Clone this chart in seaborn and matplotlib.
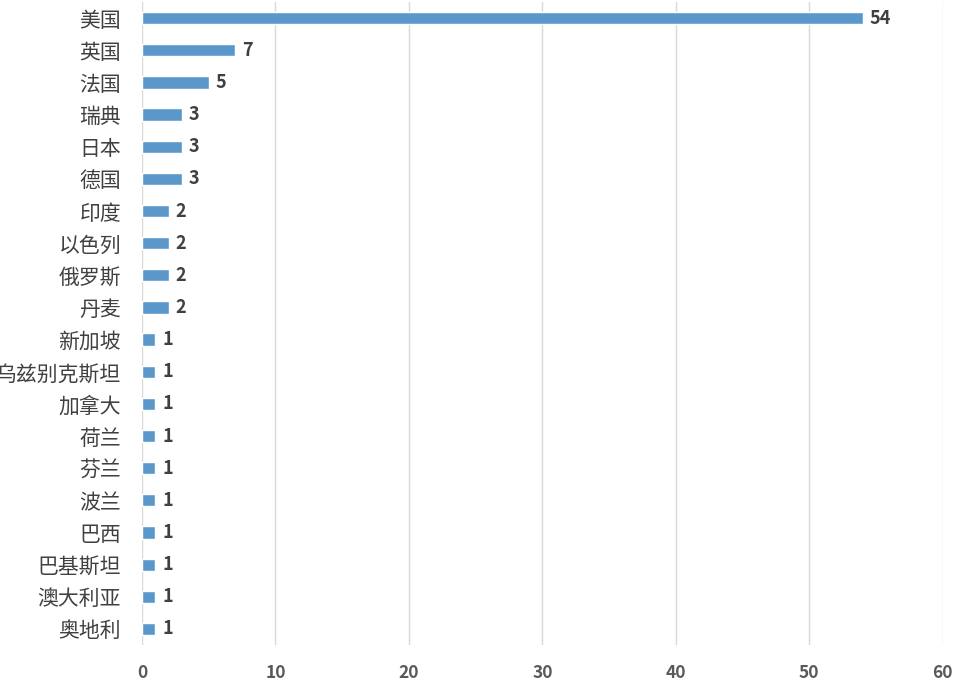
import matplotlib
matplotlib.use("Agg")
import matplotlib.pyplot as plt
import seaborn as sns
import pandas as pd

countries = ["美国", "英国", "法国", "瑞典", "日本", "德国", "印度", "以色列", "俄罗斯", "丹麦",
             "新加坡", "乌兹别克斯坦", "加拿大", "荷兰", "芬兰", "波兰", "巴西", "巴基斯坦", "澳大利亚", "奥地利"]
counts = [54, 7, 5, 3, 3, 3, 2, 2, 2, 2, 1, 1, 1, 1, 1, 1, 1, 1, 1, 1]
xticks = [0, 10, 20, 30, 40, 50, 60]

sns.set_theme(style="white")
plt.rcParams['font.family'] = ['Noto Sans CJK SC', 'DejaVu Sans']

df = pd.DataFrame({"country": countries, "count": counts})

fig = plt.figure(figsize=(9.64, 6.85), dpi=100)
ax = fig.add_axes([0.1473, 0.0584, 0.978 - 0.1473, 0.997 - 0.0584])

sns.barplot(data=df, x="count", y="country", orient="h", color="#5a98cc",
            width=0.38, saturation=1, ax=ax, zorder=3)

ax.set_xlim(0, 60)
ax.set_ylim(19.5, -0.5)
ax.set_xticks(xticks)
ax.set_xticklabels([str(t) for t in xticks], fontsize=12.5, fontweight="bold", color="#595959")
ax.tick_params(axis="x", length=0, pad=14)
ax.tick_params(axis="y", length=0, pad=15)
for lbl in ax.get_yticklabels():
    lbl.set_fontsize(15)
    lbl.set_color("#404040")
ax.set_xlabel("")
ax.set_ylabel("")
ax.grid(axis="x", color="#d9d9d9", linewidth=1, zorder=0)
ax.grid(axis="y", visible=False)
for s in ax.spines.values():
    s.set_visible(False)

for i, v in enumerate(counts):
    ax.annotate(str(v), xy=(v, i), xytext=(5, 0), textcoords="offset points",
                va="center", ha="left", fontsize=13, fontweight="bold", color="#404040")

fig.savefig("out.png", dpi=100)
